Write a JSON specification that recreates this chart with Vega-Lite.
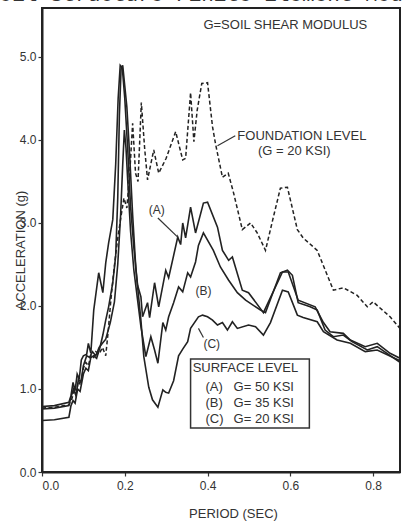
{
  "$schema": "https://vega.github.io/schema/vega-lite/v6.json",
  "width": 358,
  "height": 464,
  "autosize": {"type": "none"},
  "padding": {"left": 42, "top": 8, "right": 4, "bottom": 52},
  "background": "white",
  "title": {
    "text": "Soil-Structure Finite Element Model",
    "anchor": "start",
    "frame": "group",
    "dx": -55,
    "dy": 14,
    "offset": 0,
    "baseline": "alphabetic",
    "font": "Liberation Mono",
    "fontSize": 21,
    "fontWeight": "normal",
    "color": "#333"
  },
  "config": {
    "view": {"stroke": "#222", "strokeWidth": 2},
    "font": "Liberation Sans"
  },
  "datasets": {
    "foundation": [
      {"period": 0, "acc": 0.77}, {"period": 0.03, "acc": 0.78}, {"period": 0.065, "acc": 0.81}, {"period": 0.072, "acc": 0.88},
      {"period": 0.078, "acc": 0.98}, {"period": 0.083, "acc": 0.95}, {"period": 0.088, "acc": 1.1}, {"period": 0.093, "acc": 1.05},
      {"period": 0.1, "acc": 1.25}, {"period": 0.106, "acc": 1.32}, {"period": 0.112, "acc": 1.28}, {"period": 0.118, "acc": 1.4},
      {"period": 0.124, "acc": 1.37}, {"period": 0.13, "acc": 1.45}, {"period": 0.138, "acc": 1.42}, {"period": 0.146, "acc": 1.5},
      {"period": 0.154, "acc": 1.4}, {"period": 0.16, "acc": 1.7}, {"period": 0.166, "acc": 2.05}, {"period": 0.172, "acc": 2.35},
      {"period": 0.178, "acc": 2.62}, {"period": 0.184, "acc": 2.85}, {"period": 0.19, "acc": 3.05}, {"period": 0.198, "acc": 3.3},
      {"period": 0.205, "acc": 3.18}, {"period": 0.212, "acc": 3.6}, {"period": 0.219, "acc": 4.2}, {"period": 0.226, "acc": 3.6},
      {"period": 0.232, "acc": 3.5}, {"period": 0.24, "acc": 4.45}, {"period": 0.248, "acc": 3.9}, {"period": 0.255, "acc": 3.52},
      {"period": 0.27, "acc": 3.88}, {"period": 0.282, "acc": 3.6}, {"period": 0.3, "acc": 3.78}, {"period": 0.323, "acc": 4.1},
      {"period": 0.34, "acc": 3.76}, {"period": 0.347, "acc": 3.78}, {"period": 0.359, "acc": 4.57}, {"period": 0.367, "acc": 3.98},
      {"period": 0.375, "acc": 4.36}, {"period": 0.386, "acc": 4.68}, {"period": 0.4, "acc": 4.69}, {"period": 0.412, "acc": 4.16},
      {"period": 0.419, "acc": 3.96}, {"period": 0.436, "acc": 3.55}, {"period": 0.45, "acc": 3.6}, {"period": 0.463, "acc": 3.36},
      {"period": 0.484, "acc": 2.92}, {"period": 0.504, "acc": 3.0}, {"period": 0.52, "acc": 2.88}, {"period": 0.54, "acc": 2.67},
      {"period": 0.559, "acc": 3.07}, {"period": 0.576, "acc": 3.42}, {"period": 0.593, "acc": 3.43}, {"period": 0.617, "acc": 2.92},
      {"period": 0.631, "acc": 2.82}, {"period": 0.665, "acc": 2.67}, {"period": 0.704, "acc": 2.19}, {"period": 0.728, "acc": 2.22},
      {"period": 0.761, "acc": 2.13}, {"period": 0.786, "acc": 1.99}, {"period": 0.8, "acc": 2.05}, {"period": 0.841, "acc": 1.87},
      {"period": 0.865, "acc": 1.73}
    ],
    "surfaceA": [
      {"period": 0, "acc": 0.79}, {"period": 0.03, "acc": 0.8}, {"period": 0.065, "acc": 0.84}, {"period": 0.07, "acc": 0.92},
      {"period": 0.075, "acc": 1.08}, {"period": 0.08, "acc": 0.98}, {"period": 0.085, "acc": 1.18}, {"period": 0.09, "acc": 1.12},
      {"period": 0.095, "acc": 1.35}, {"period": 0.1, "acc": 1.4}, {"period": 0.108, "acc": 1.42}, {"period": 0.112, "acc": 1.55},
      {"period": 0.118, "acc": 1.43}, {"period": 0.125, "acc": 1.95}, {"period": 0.137, "acc": 2.4}, {"period": 0.147, "acc": 2.16},
      {"period": 0.154, "acc": 2.52}, {"period": 0.161, "acc": 2.76}, {"period": 0.171, "acc": 3.04}, {"period": 0.178, "acc": 3.7},
      {"period": 0.184, "acc": 4.5}, {"period": 0.189, "acc": 4.9}, {"period": 0.194, "acc": 4.87}, {"period": 0.2, "acc": 4.5},
      {"period": 0.207, "acc": 3.9}, {"period": 0.214, "acc": 3.2}, {"period": 0.222, "acc": 2.7}, {"period": 0.231, "acc": 2.25},
      {"period": 0.239, "acc": 2.11}, {"period": 0.243, "acc": 1.87}, {"period": 0.255, "acc": 2.04}, {"period": 0.26, "acc": 1.86},
      {"period": 0.272, "acc": 2.28}, {"period": 0.282, "acc": 1.99}, {"period": 0.299, "acc": 2.43}, {"period": 0.306, "acc": 2.34},
      {"period": 0.328, "acc": 2.83}, {"period": 0.335, "acc": 2.74}, {"period": 0.34, "acc": 3.0}, {"period": 0.347, "acc": 2.82},
      {"period": 0.359, "acc": 3.19}, {"period": 0.371, "acc": 2.88}, {"period": 0.39, "acc": 3.24}, {"period": 0.4, "acc": 3.25},
      {"period": 0.424, "acc": 2.95}, {"period": 0.436, "acc": 2.67}, {"period": 0.451, "acc": 2.55}, {"period": 0.46, "acc": 2.59},
      {"period": 0.484, "acc": 2.19}, {"period": 0.499, "acc": 2.16}, {"period": 0.535, "acc": 1.92}, {"period": 0.581, "acc": 2.41},
      {"period": 0.595, "acc": 2.41}, {"period": 0.619, "acc": 2.07}, {"period": 0.66, "acc": 1.99}, {"period": 0.68, "acc": 1.8},
      {"period": 0.696, "acc": 1.69}, {"period": 0.728, "acc": 1.67}, {"period": 0.745, "acc": 1.59}, {"period": 0.781, "acc": 1.51},
      {"period": 0.81, "acc": 1.55}, {"period": 0.841, "acc": 1.43}, {"period": 0.865, "acc": 1.37}
    ],
    "surfaceB": [
      {"period": 0, "acc": 0.76}, {"period": 0.03, "acc": 0.77}, {"period": 0.065, "acc": 0.8}, {"period": 0.07, "acc": 0.9},
      {"period": 0.076, "acc": 1.0}, {"period": 0.082, "acc": 0.92}, {"period": 0.088, "acc": 1.12}, {"period": 0.094, "acc": 1.08},
      {"period": 0.1, "acc": 1.28}, {"period": 0.108, "acc": 1.4}, {"period": 0.115, "acc": 1.38}, {"period": 0.122, "acc": 1.45},
      {"period": 0.13, "acc": 1.4}, {"period": 0.138, "acc": 1.5}, {"period": 0.146, "acc": 1.55}, {"period": 0.154, "acc": 1.6},
      {"period": 0.165, "acc": 1.8}, {"period": 0.175, "acc": 2.05}, {"period": 0.183, "acc": 2.5}, {"period": 0.19, "acc": 3.1},
      {"period": 0.195, "acc": 3.7}, {"period": 0.199, "acc": 4.12}, {"period": 0.203, "acc": 3.9}, {"period": 0.207, "acc": 3.52},
      {"period": 0.214, "acc": 2.9}, {"period": 0.222, "acc": 2.43}, {"period": 0.231, "acc": 2.07}, {"period": 0.239, "acc": 1.75},
      {"period": 0.251, "acc": 1.39}, {"period": 0.263, "acc": 1.63}, {"period": 0.272, "acc": 1.47}, {"period": 0.28, "acc": 1.31},
      {"period": 0.292, "acc": 1.8}, {"period": 0.299, "acc": 1.71}, {"period": 0.306, "acc": 1.87}, {"period": 0.318, "acc": 2.04},
      {"period": 0.33, "acc": 2.23}, {"period": 0.34, "acc": 2.17}, {"period": 0.352, "acc": 2.4}, {"period": 0.359, "acc": 2.35},
      {"period": 0.371, "acc": 2.53}, {"period": 0.378, "acc": 2.73}, {"period": 0.39, "acc": 2.88}, {"period": 0.414, "acc": 2.67},
      {"period": 0.431, "acc": 2.47}, {"period": 0.451, "acc": 2.31}, {"period": 0.472, "acc": 2.16}, {"period": 0.492, "acc": 2.07},
      {"period": 0.528, "acc": 1.95}, {"period": 0.54, "acc": 1.92}, {"period": 0.576, "acc": 2.4}, {"period": 0.593, "acc": 2.43},
      {"period": 0.605, "acc": 2.37}, {"period": 0.619, "acc": 2.04}, {"period": 0.648, "acc": 1.99}, {"period": 0.665, "acc": 1.95},
      {"period": 0.684, "acc": 1.71}, {"period": 0.704, "acc": 1.63}, {"period": 0.728, "acc": 1.65}, {"period": 0.749, "acc": 1.57},
      {"period": 0.786, "acc": 1.47}, {"period": 0.81, "acc": 1.51}, {"period": 0.865, "acc": 1.32}
    ],
    "surfaceC": [
      {"period": 0, "acc": 0.62}, {"period": 0.03, "acc": 0.63}, {"period": 0.065, "acc": 0.66}, {"period": 0.07, "acc": 0.8},
      {"period": 0.075, "acc": 0.86}, {"period": 0.08, "acc": 0.83}, {"period": 0.086, "acc": 1.0}, {"period": 0.092, "acc": 0.97},
      {"period": 0.1, "acc": 1.18}, {"period": 0.106, "acc": 1.25}, {"period": 0.112, "acc": 1.22}, {"period": 0.118, "acc": 1.38},
      {"period": 0.125, "acc": 1.4}, {"period": 0.132, "acc": 1.37}, {"period": 0.14, "acc": 1.5}, {"period": 0.147, "acc": 1.65},
      {"period": 0.154, "acc": 1.83}, {"period": 0.161, "acc": 1.99}, {"period": 0.171, "acc": 2.28}, {"period": 0.178, "acc": 2.6},
      {"period": 0.183, "acc": 3.3}, {"period": 0.187, "acc": 4.3}, {"period": 0.191, "acc": 4.85}, {"period": 0.195, "acc": 4.9},
      {"period": 0.2, "acc": 4.65}, {"period": 0.205, "acc": 4.4}, {"period": 0.212, "acc": 3.8}, {"period": 0.219, "acc": 3.1},
      {"period": 0.227, "acc": 2.43}, {"period": 0.239, "acc": 1.83}, {"period": 0.246, "acc": 1.39}, {"period": 0.258, "acc": 1.02},
      {"period": 0.267, "acc": 0.87}, {"period": 0.28, "acc": 0.78}, {"period": 0.292, "acc": 0.99}, {"period": 0.299, "acc": 0.96},
      {"period": 0.306, "acc": 0.95}, {"period": 0.318, "acc": 1.1}, {"period": 0.33, "acc": 1.4}, {"period": 0.34, "acc": 1.48},
      {"period": 0.352, "acc": 1.57}, {"period": 0.359, "acc": 1.73}, {"period": 0.378, "acc": 1.87}, {"period": 0.388, "acc": 1.89},
      {"period": 0.4, "acc": 1.87}, {"period": 0.412, "acc": 1.83}, {"period": 0.424, "acc": 1.77}, {"period": 0.436, "acc": 1.8},
      {"period": 0.448, "acc": 1.71}, {"period": 0.46, "acc": 1.81}, {"period": 0.472, "acc": 1.73}, {"period": 0.499, "acc": 1.77},
      {"period": 0.516, "acc": 1.75}, {"period": 0.535, "acc": 1.65}, {"period": 0.552, "acc": 1.8}, {"period": 0.581, "acc": 2.19},
      {"period": 0.595, "acc": 2.17}, {"period": 0.617, "acc": 1.89}, {"period": 0.631, "acc": 1.86}, {"period": 0.665, "acc": 1.81},
      {"period": 0.68, "acc": 1.69}, {"period": 0.713, "acc": 1.59}, {"period": 0.745, "acc": 1.55}, {"period": 0.781, "acc": 1.45},
      {"period": 0.81, "acc": 1.47}, {"period": 0.865, "acc": 1.34}
    ],
    "bigLabels": [
      {"period": 0.39, "acc": 5.39, "text": "G=SOIL SHEAR MODULUS"},
      {"period": 0.472, "acc": 4.05, "text": "FOUNDATION  LEVEL"},
      {"period": 0.522, "acc": 3.87, "text": "(G = 20 KSI)"},
      {"period": 0.364, "acc": 1.25, "text": "SURFACE   LEVEL"},
      {"period": 0.395, "acc": 1.02, "text": "(A)"},
      {"period": 0.463, "acc": 1.02, "text": "G= 50 KSI"},
      {"period": 0.395, "acc": 0.83, "text": "(B)"},
      {"period": 0.463, "acc": 0.83, "text": "G= 35 KSI"},
      {"period": 0.395, "acc": 0.64, "text": "(C)"},
      {"period": 0.463, "acc": 0.64, "text": "G= 20 KSI"}
    ],
    "curveLabels": [
      {"period": 0.258, "acc": 3.16, "text": "(A)"},
      {"period": 0.371, "acc": 2.18, "text": "(B)"},
      {"period": 0.39, "acc": 1.54, "text": "(C)"}
    ],
    "leaders": [
      {"period": 0.467, "acc": 4.05, "period2": 0.424, "acc2": 3.93},
      {"period": 0.28, "acc": 3.06, "period2": 0.328, "acc2": 2.83},
      {"period": 0.378, "acc": 1.73, "period2": 0.39, "acc2": 1.62}
    ],
    "box": [
      {"period": 0.359, "acc": 0.53, "period2": 0.646, "acc2": 1.36}
    ]
  },
  "encoding": {
    "x": {
      "field": "period",
      "type": "quantitative",
      "scale": {"domain": [0, 0.865], "nice": false, "zero": false},
      "axis": {
        "title": "PERIOD (SEC)",
        "values": [0, 0.2, 0.4, 0.6, 0.8],
        "format": ".1f",
        "grid": false,
        "tickSize": 4,
        "tickColor": "#333",
        "tickWidth": 1.2,
        "domainColor": "#222",
        "domainWidth": 2,
        "labelFont": "Liberation Sans",
        "labelFontSize": 12,
        "labelColor": "#333",
        "labelPadding": 4,
        "titleFont": "Liberation Sans",
        "titleFontSize": 13,
        "titleFontWeight": "normal",
        "titleColor": "#333",
        "titleX": 191,
        "titleY": 45,
        "titleAlign": "center",
        "titleBaseline": "alphabetic"
      }
    },
    "y": {
      "field": "acc",
      "type": "quantitative",
      "scale": {"domain": [0, 5.59], "nice": false},
      "axis": {
        "title": "ACCELERATION (g)",
        "values": [0, 1, 2, 3, 4, 5],
        "format": ".1f",
        "grid": false,
        "tickSize": 4,
        "tickColor": "#333",
        "tickWidth": 1.2,
        "domainColor": "#222",
        "domainWidth": 2,
        "labelFont": "Liberation Sans",
        "labelFontSize": 12,
        "labelColor": "#333",
        "labelPadding": 2,
        "titleFont": "Liberation Sans",
        "titleFontSize": 13,
        "titleFontWeight": "normal",
        "titleColor": "#333",
        "titleAngle": -90,
        "titleX": -18,
        "titleY": 242,
        "titleAlign": "center",
        "titleBaseline": "alphabetic"
      }
    }
  },
  "layer": [
    {"data": {"name": "foundation"}, "mark": {"type": "line", "color": "#222", "strokeWidth": 1.5, "strokeDash": [4, 2.5]}},
    {"data": {"name": "surfaceA"}, "mark": {"type": "line", "color": "#222", "strokeWidth": 1.6}},
    {"data": {"name": "surfaceB"}, "mark": {"type": "line", "color": "#222", "strokeWidth": 1.6}},
    {"data": {"name": "surfaceC"}, "mark": {"type": "line", "color": "#222", "strokeWidth": 1.6}},
    {"data": {"name": "leaders"}, "mark": {"type": "rule", "color": "#333", "strokeWidth": 1.2},
     "encoding": {"x2": {"field": "period2"}, "y2": {"field": "acc2"}}},
    {"data": {"name": "box"}, "mark": {"type": "rect", "fill": "white", "stroke": "#333", "strokeWidth": 1.5},
     "encoding": {"x2": {"field": "period2"}, "y2": {"field": "acc2"}}},
    {"data": {"name": "bigLabels"}, "mark": {"type": "text", "align": "left", "baseline": "middle", "font": "Liberation Sans", "fontSize": 13, "color": "#333"},
     "encoding": {"text": {"field": "text"}}},
    {"data": {"name": "curveLabels"}, "mark": {"type": "text", "align": "left", "baseline": "middle", "font": "Liberation Sans", "fontSize": 12, "color": "#333"},
     "encoding": {"text": {"field": "text"}}}
  ]
}
